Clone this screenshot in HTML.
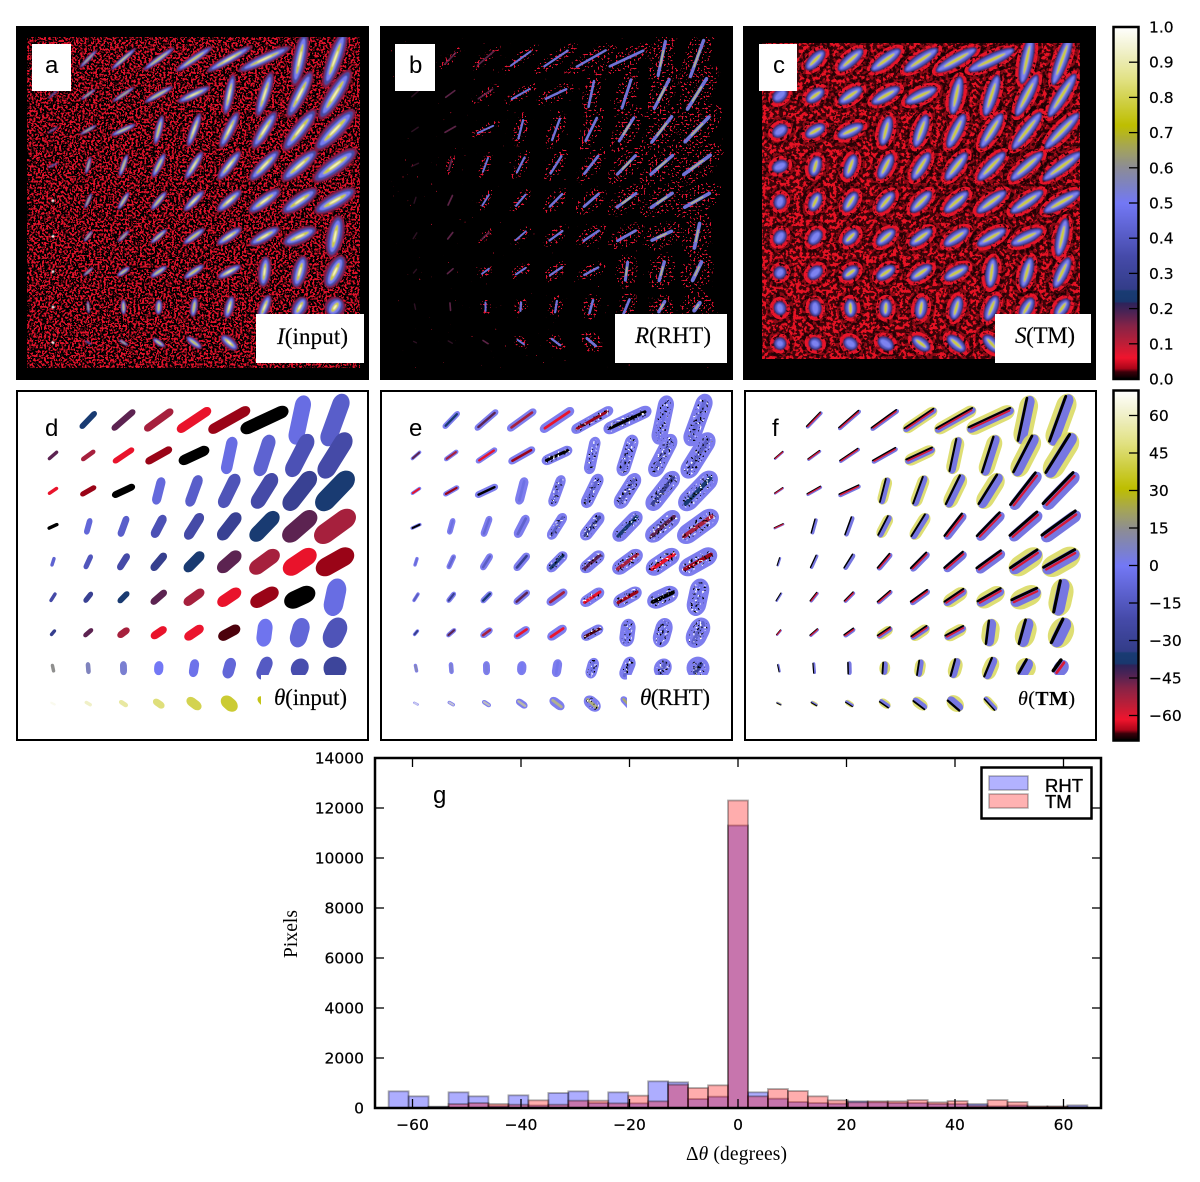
<!DOCTYPE html>
<html lang="en">
<head>
<meta charset="utf-8">
<title>Orientation maps and residual histogram</title>
<style>
html,body{margin:0;padding:0;background:#fff;}
svg{display:block;}
.tick{font-family:"DejaVu Sans",sans-serif;font-size:15.5px;fill:#000;stroke:#000;stroke-width:0.2px;}
.letter{font-family:"Liberation Sans",sans-serif;font-size:24px;fill:#000;}
.math{font-family:"Liberation Serif",serif;font-size:23px;fill:#000;stroke:#000;stroke-width:0.15px;}
.axis{font-family:"Liberation Serif",serif;font-size:19.5px;fill:#000;}
.leg{font-family:"Liberation Sans",sans-serif;font-size:18.5px;fill:#000;stroke:#000;stroke-width:0.35px;}
</style>
</head>
<body>
<svg id="figure" xmlns="http://www.w3.org/2000/svg" width="1200" height="1182" viewBox="0 0 1200 1182">
<defs>
<filter id="noise-a" x="0" y="0" width="100%" height="100%" color-interpolation-filters="sRGB">
<feTurbulence type="fractalNoise" baseFrequency="0.47" numOctaves="2" seed="3"/>
<feColorMatrix values="0 0 0 0 0.88 0 0 0 0 0.07 0 0 0 0 0.17 1 0 0 0 0"/>
<feComponentTransfer><feFuncA type="linear" slope="30" intercept="-15.2"/></feComponentTransfer>
</filter>
<filter id="noise-b" x="0" y="0" width="100%" height="100%" color-interpolation-filters="sRGB">
<feTurbulence type="fractalNoise" baseFrequency="0.42" numOctaves="1" seed="8"/>
<feColorMatrix values="0 0 0 0 0.75 0 0 0 0 0.07 0 0 0 0 0.17 1 0 0 0 0"/>
<feComponentTransfer><feFuncA type="linear" slope="30" intercept="-23"/></feComponentTransfer>
</filter>
<filter id="noise-c" x="0" y="0" width="100%" height="100%" color-interpolation-filters="sRGB">
<feTurbulence type="fractalNoise" baseFrequency="0.3" numOctaves="2" seed="5"/>
<feColorMatrix values="0 0 0 0 0.9 0 0 0 0 0.07 0 0 0 0 0.14 1 0 0 0 0"/>
<feComponentTransfer><feFuncA type="linear" slope="12" intercept="-5.6"/></feComponentTransfer>
</filter>
<filter id="speckle-red" filterUnits="userSpaceOnUse" x="380" y="26" width="353" height="354" color-interpolation-filters="sRGB">
<feTurbulence type="fractalNoise" baseFrequency="0.5" numOctaves="1" seed="11" result="n"/>
<feColorMatrix in="n" values="0 0 0 0 0.9 0 0 0 0 0.08 0 0 0 0 0.2 1 0 0 0 0"/>
<feComponentTransfer result="dots"><feFuncA type="linear" slope="30" intercept="-18.1"/></feComponentTransfer>
<feComposite in="dots" in2="SourceAlpha" operator="in"/>
</filter>
<filter id="speckle-black" filterUnits="userSpaceOnUse" x="380" y="390" width="353" height="351" color-interpolation-filters="sRGB">
<feTurbulence type="fractalNoise" baseFrequency="0.45" numOctaves="1" seed="21" result="n"/>
<feColorMatrix in="n" values="0 0 0 0 0 0 0 0 0 0 0 0 0 0 0 1 0 0 0 0"/>
<feComponentTransfer result="dots"><feFuncA type="linear" slope="30" intercept="-18.6"/></feComponentTransfer>
<feComposite in="dots" in2="SourceAlpha" operator="in"/>
</filter>
<filter id="speckle-white" filterUnits="userSpaceOnUse" x="380" y="390" width="353" height="351" color-interpolation-filters="sRGB">
<feTurbulence type="fractalNoise" baseFrequency="0.45" numOctaves="1" seed="33" result="n"/>
<feColorMatrix in="n" values="0 0 0 0 1 0 0 0 0 1 0 0 0 0 1 1 0 0 0 0"/>
<feComponentTransfer result="dots"><feFuncA type="linear" slope="30" intercept="-19.5"/></feComponentTransfer>
<feComposite in="dots" in2="SourceAlpha" operator="in"/>
</filter>
<filter id="halo-break" filterUnits="userSpaceOnUse" x="743" y="26" width="353" height="354" color-interpolation-filters="sRGB">
<feTurbulence type="fractalNoise" baseFrequency="0.3" numOctaves="2" seed="17" result="n"/>
<feColorMatrix in="n" values="0 0 0 0 0.91 0 0 0 0 0.08 0 0 0 0 0.16 1 0 0 0 0"/>
<feComponentTransfer result="dots"><feFuncA type="linear" slope="12" intercept="-4.4"/></feComponentTransfer>
<feComposite in="dots" in2="SourceAlpha" operator="in"/>
</filter>
<filter id="soft" x="-5%" y="-5%" width="110%" height="110%"><feGaussianBlur stdDeviation="0.6"/></filter>
<clipPath id="clip-a"><rect x="27" y="37" width="333" height="331"/></clipPath>
<clipPath id="clip-b"><rect x="391" y="37" width="333" height="331"/></clipPath>
<clipPath id="clip-c"><rect x="762" y="43" width="318" height="316"/></clipPath>
<clipPath id="clip-d"><rect x="18" y="392" width="349" height="347"/></clipPath>
<clipPath id="clip-e"><rect x="382" y="392" width="349" height="347"/></clipPath>
<clipPath id="clip-f"><rect x="746" y="392" width="349" height="347"/></clipPath>
<linearGradient id="score-gradient" x1="0" y1="1" x2="0" y2="0"></linearGradient>
<linearGradient id="angle-gradient" x1="0" y1="1" x2="0" y2="0"></linearGradient>
</defs>

<g id="panel-a">
<rect x="16" y="26" width="353" height="354" fill="#000"/>
<rect x="27" y="37" width="333" height="331" filter="url(#noise-a)"/>
<g id="blobs-a" clip-path="url(#clip-a)"></g>
<rect x="32" y="44" width="39" height="47" fill="#fff"/>
<text class="letter" x="45" y="73">a</text>
<rect x="256" y="314" width="108" height="49" fill="#fff"/>
<text class="math" x="277" y="344" textLength="71"><tspan font-style="italic">I</tspan>(input)</text>
</g>

<g id="panel-b">
<rect x="380" y="26" width="353" height="354" fill="#000"/>
<rect x="391" y="37" width="333" height="331" filter="url(#noise-b)"/>
<g id="speckle-b" clip-path="url(#clip-b)"><g id="speckle-b-inner" filter="url(#speckle-red)"></g></g>
<g id="blobs-b" clip-path="url(#clip-b)"></g>
<rect x="395" y="44" width="40" height="47" fill="#fff"/>
<text class="letter" x="409" y="73">b</text>
<rect x="615" y="314" width="112" height="49" fill="#fff"/>
<text class="math" x="635" y="343" textLength="76"><tspan font-style="italic">R</tspan>(RHT)</text>
</g>

<g id="panel-c">
<rect x="743" y="26" width="353" height="354" fill="#000"/>
<rect x="762" y="43" width="318" height="316" fill="#3c0409"/>
<rect x="762" y="43" width="318" height="316" filter="url(#noise-c)"/>
<g id="blobs-c" clip-path="url(#clip-c)"></g>
<rect x="759" y="44" width="38" height="47" fill="#fff"/>
<text class="letter" x="773" y="73">c</text>
<rect x="995" y="314" width="96" height="49" fill="#fff"/>
<text class="math" x="1015" y="343" textLength="60"><tspan font-style="italic">S</tspan>(TM)</text>
</g>

<g id="panel-d">
<rect x="17" y="391" width="351" height="349" fill="#fff" stroke="#000" stroke-width="2"/>
<g id="blobs-d" clip-path="url(#clip-d)"></g>
<rect x="261" y="675" width="103" height="50" fill="#fff"/>
<text class="letter" x="45" y="436">d</text>
<text class="math" x="274" y="705" textLength="73"><tspan font-style="italic">θ</tspan>(input)</text>
</g>

<g id="panel-e">
<rect x="381" y="391" width="351" height="349" fill="#fff" stroke="#000" stroke-width="2"/>
<g id="blobs-e" clip-path="url(#clip-e)"></g>
<g id="speckle-e" clip-path="url(#clip-e)"><g id="speckle-e-black" filter="url(#speckle-black)"></g><g id="speckle-e-white" filter="url(#speckle-white)"></g></g>
<rect x="627" y="675" width="101" height="50" fill="#fff"/>
<text class="letter" x="409" y="436">e</text>
<text class="math" x="640" y="705" textLength="70" font-size="22"><tspan font-style="italic">θ</tspan>(RHT)</text>
</g>

<g id="panel-f">
<rect x="745" y="391" width="351" height="349" fill="#fff" stroke="#000" stroke-width="2"/>
<g id="blobs-f" clip-path="url(#clip-f)"></g>
<rect x="1003" y="675" width="88" height="50" fill="#fff"/>
<text class="letter" x="772" y="436">f</text>
<text class="math" x="1018" y="705" textLength="57" style="font-size:20px"><tspan font-style="italic">θ</tspan>(<tspan font-weight="bold">TM</tspan>)</text>
</g>

<g id="colorbar-score">
<rect x="1113.5" y="27" width="25" height="352" fill="url(#score-gradient)" stroke="#000" stroke-width="2.5"/>
<g id="score-ticks"></g>
</g>
<g id="colorbar-angle">
<rect x="1113.5" y="390.5" width="25" height="350" fill="url(#angle-gradient)" stroke="#000" stroke-width="2.5"/>
<g id="angle-ticks"></g>
</g>

<g id="histogram">
<g id="hist-rht"></g>
<g id="hist-tm"></g>
<rect x="375" y="758" width="726" height="350" fill="none" stroke="#000" stroke-width="2.5"/>
<g id="hist-ticks"></g>
<text class="letter" x="433" y="803">g</text>
<text class="axis" transform="translate(297,934) rotate(-90)" text-anchor="middle" textLength="48">Pixels</text>
<text class="axis" x="686" y="1160" textLength="101">Δ<tspan font-style="italic">θ</tspan> (degrees)</text>
<g id="hist-legend">
<rect x="981.5" y="767.5" width="110" height="51" fill="#fff" stroke="#000" stroke-width="2.5"/>
<rect x="989" y="776" width="39" height="14" fill="#00f" fill-opacity="0.3" stroke="#000" stroke-opacity="0.3" stroke-width="1.5"/>
<text class="leg" x="1045" y="792">RHT</text>
<rect x="989" y="794" width="39" height="14" fill="#f00" fill-opacity="0.3" stroke="#000" stroke-opacity="0.3" stroke-width="1.5"/>
<text class="leg" x="1045" y="808">TM</text>
</g>
</g>
</svg>

<script>
const thetaGrid = [
  [null, -36, -45, -53, -62, -66, -70,  -5, -12],
  [ -45, -53, -62, -66, -70,  -5, -10, -18, -22],
  [ -62, -66, -70,  -7, -12, -17, -22, -30, -36],
  [ -70,  -8, -12, -18, -22, -30, -36, -45, -53],
  [ -10, -16, -22, -32, -37, -45, -53, -62, -66],
  [ -22, -30, -37, -45, -53, -62, -66, -70,  -5],
  [ -32, -45, -53, -62, -61, -67,  -2,  -8, -17],
  [  15,   8,   5,   0,  -3,  -8, -14, -20, -27],
  [  67,  60,  54,  48,  42,  38,  34, null, null]
];
/* Long-axis extent of each thresholded blob, pixels. */
const lengthGrid = [
  [ 0, 23, 30, 35, 40, 47, 52, 50, 55],
  [13, 17, 25, 30, 33, 38, 43, 47, 52],
  [12, 18, 25, 28, 33, 37, 40, 47, 50],
  [12, 17, 22, 25, 30, 33, 38, 42, 48],
  [10, 16, 19, 22, 26, 29, 35, 38, 42],
  [11, 13, 15, 20, 24, 27, 31, 33, 38],
  [ 8, 12, 14, 18, 22, 24, 28, 30, 32],
  [ 9, 12, 14, 14, 18, 21, 24, 20, 18],
  [ 6,  8, 10, 13, 17, 19, 18,  0,  0]
];
/* Short-axis extent of each thresholded blob, pixels. */
const widthGrid = [
  [0, 5, 5.5, 6.5, 8, 9, 11, 14, 15],
  [3, 4, 5, 6.5, 9, 10, 12, 14, 16],
  [3, 4.5, 6, 8, 9, 11, 13, 15, 17],
  [3, 5, 6, 8, 9, 11, 13, 15, 17],
  [3, 4.5, 6, 7, 9, 11, 13, 15, 16],
  [3, 4.5, 5, 6, 8, 10, 12, 15, 17],
  [3, 4, 6, 7, 8, 9, 13, 15, 18],
  [3, 4, 6, 8, 8, 10, 11, 15, 20],
  [2, 3, 4, 6, 8, 11, 6, 0, 0]
];
/* Histogram bin counts, 35 bins from left to right. */
const rhtCounts = [667, 467, 53, 627, 467, 80, 507, 100, 600, 667, 200, 627, 187, 1067, 1027, 360, 453, 11300, 627, 373, 240, 200, 173, 267, 227, 200, 200, 160, 160, 160, 67, 100, 40, 40, 107];
const tmCounts = [0, 0, 40, 160, 200, 160, 133, 307, 133, 293, 293, 187, 493, 267, 933, 800, 907, 12300, 467, 760, 680, 467, 307, 227, 267, 267, 320, 227, 280, 93, 320, 240, 67, 67, 27];
const binStart = -64.4;
const binWidth = 3.68;
const histXTicks = [-60, -40, -20, 0, 20, 40, 60];
const histYTicks = [0, 2000, 4000, 6000, 8000, 10000, 12000, 14000];
const scoreTicks = [0, 0.1, 0.2, 0.3, 0.4, 0.5, 0.6, 0.7, 0.8, 0.9, 1];
const angleTicks = [-60, -45, -30, -15, 0, 15, 30, 45, 60];

const rampStops = [
  [0,0,0,0],[0.02,60,0,10],[0.03,170,5,25],[0.06,240,20,45],[0.10,190,30,55],[0.15,135,35,70],
  [0.19,75,35,85],[0.215,45,35,90],[0.22,25,55,110],[0.25,25,60,115],[0.251,50,60,135],
  [0.35,70,75,170],[0.50,115,120,245],[0.55,125,130,195],[0.60,140,140,150],[0.66,165,165,85],
  [0.72,190,190,0],[0.78,205,205,60],[0.85,225,225,130],[0.93,240,240,200],[1,255,255,255]
];
/* Colour angle (first) to drawn tilt (second): the drawn shape leans differently from its printed colour value. */
const tiltMap = [[-70,-65],[-62,-56],[-53,-54],[-45,-49],[-36,-44],[-30,-38],[-22,-32],[-12,-20],[-5,-12],[0,-4],[15,12],[38,49],[42,53],[48,55],[60,60],[70,65]];
const NS = 'http://www.w3.org/2000/svg';

function tiltOf(theta) {
  for (let i = 1; i < tiltMap.length; i++) {
    const a = tiltMap[i - 1], b = tiltMap[i];
    if (theta <= b[0]) return a[1] + (b[1] - a[1]) * (theta - a[0]) / (b[0] - a[0]);
  }
  return theta;
}
function rampColor(f) {
  const t = Math.max(0, Math.min(1, f));
  for (let i = 1; i < rampStops.length; i++) {
    const a = rampStops[i - 1], b = rampStops[i];
    if (t <= b[0]) {
      const k = (t - a[0]) / (b[0] - a[0]);
      return 'rgb(' + [1, 2, 3].map(j => Math.round(a[j] + (b[j] - a[j]) * k)).join(',') + ')';
    }
  }
  return 'rgb(255,255,255)';
}
function angleFraction(theta) { return (theta + 70) / 140; }
function angleColor(theta) { return rampColor(angleFraction(theta)); }

function make(tag, attrs, parent) {
  const node = document.createElementNS(NS, tag);
  Object.keys(attrs).forEach(k => node.setAttribute(k, attrs[k]));
  parent.appendChild(node);
  return node;
}
function byId(id) { return document.getElementById(id); }

/* Axis functions */
function cellX(col, x0) { return x0 + col * 35.25; }
function cellY(row, y0) { return y0 + row * 35.45; }
function histX(v) { return 738 + v * 5.425; }
function histY(c) { return 1108 - c * 0.025; }
function scoreY(v) { return 379 - v * 352; }
function angleY(v) { return 390.5 + (70 - v) / 140 * 350; }

function blobLayer(parent, cx, cy, len, wid, rot, fill, opacity, offset) {
  const w = Math.max(wid, 0.4);
  const l = Math.max(len, w);
  const shape = make('rect', {
    x: -w / 2 + (offset || 0), y: -l / 2, width: w, height: l, rx: w / 2, ry: Math.min(l / 2, w * 0.62),
    fill: fill, 'fill-opacity': opacity,
    transform: 'translate(' + cx + ',' + cy + ') rotate(' + rot + ')'
  }, parent);
  
  
  return shape;
}
function ellipseLayer(parent, cx, cy, len, wid, rot, fill, opacity) {
  const shape = blobLayer(parent, cx, cy, len, wid, rot, fill, opacity);
  shape.setAttribute('ry', Math.max(len, wid) / 2);
  return shape;
}

function eachCell(visit) {
  thetaGrid.forEach((rowValues, row) => {
    rowValues.forEach((theta, col) => {
      if (theta === null) return;
      visit(row, col, theta, lengthGrid[row][col], widthGrid[row][col], -tiltOf(theta));
    });
  });
}

/* Colour ramps */
[byId('score-gradient'), byId('angle-gradient')].forEach(gradient => {
  for (let i = 0; i <= 200; i++) {
    make('stop', { offset: (i / 200), 'stop-color': rampColor(i / 200) }, gradient);
  }
});

/* Panel a: intensity */
const blobsA = byId('blobs-a');
blobsA.setAttribute('filter', 'url(#soft)');
eachCell((row, col, theta, len, wid, rot) => {
  const x = cellX(col, 53), y = cellY(row, 59);
  const g = make('g', {}, blobsA);
  
  
  if (col === 0 && row >= 4) {
    ellipseLayer(g, x, y, 3, 2.5, rot, '#fff', 1);
    return;
  }
  const strength = wid < 4 ? 0.45 : (wid < 5.5 ? 0.75 : 1);
  ellipseLayer(g, x, y, len * 1.12, wid * 1.05, rot, 'rgb(125,30,75)', strength);
  ellipseLayer(g, x, y, len, wid * 0.76, rot, 'rgb(70,72,160)', strength);
  ellipseLayer(g, x, y, len * 0.85, wid * 0.5, rot, 'rgb(120,125,240)', strength);
  if (wid >= 4) ellipseLayer(g, x, y, len * 0.62, wid * 0.24, rot, 'rgb(205,205,60)', strength);
  if (wid >= 9) ellipseLayer(g, x, y, len * 0.32, wid * 0.1, rot, 'rgb(250,250,205)', 1);
});

/* Panel b: RHT response */
const speckleB = byId('speckle-b-inner');
const blobsB = byId('blobs-b');
eachCell((row, col, theta, len, wid, rot) => {
  const x = cellX(col, 415), y = cellY(row, 58.5);
  if (wid >= 5) {
    const halo = ellipseLayer(speckleB, x, y, len * 1.3, wid * 1.7, rot, '#fff', 1);
    
  }
  const strong = wid >= 6;
  const core = blobLayer(blobsB, x, y, len * 0.76, 1 + wid * 0.16, rot, strong ? 'rgb(115,120,225)' : 'rgb(130,50,100)', strong ? 0.95 : (wid >= 4 ? 0.7 : 0.35));
  
  if (wid >= 13) {
    const hot = blobLayer(blobsB, x, y, len * 0.35, 1.6, rot, 'rgb(205,205,110)', 0.7);
    
  }
});

/* Panel c: TM response */
const blobsC = byId('blobs-c');
const shellC = make('g', {}, blobsC);


const haloC = make('g', { filter: 'url(#halo-break)' }, blobsC);


const coreC = make('g', { filter: 'url(#soft)' }, blobsC);


eachCell((row, col, theta, len, wid, rot) => {
  const x = cellX(col, 780), y = cellY(row, 60);
  const l = 6 + 0.85 * len, w = 13;
  ellipseLayer(shellC, x, y, l + 18, w + 15, rot, '#000', 0.4);
  ellipseLayer(haloC, x, y, l + 9, w + 7, rot, '#fff', 1);
  ellipseLayer(coreC, x, y, l + 1, w, rot, 'rgb(55,45,110)', 1);
  ellipseLayer(coreC, x, y, l - 2, w - 3, rot, 'rgb(85,90,195)', 1);
  ellipseLayer(coreC, x, y, l - 5, w * 0.45, rot, 'rgb(125,130,240)', 1);
  if (len >= 14) ellipseLayer(coreC, x, y, l * 0.62, 3, rot, 'rgb(205,205,55)', 1);
});

/* Panel d: input angle */
const blobsD = byId('blobs-d');
eachCell((row, col, theta, len, wid, rot) => {
  const mark = blobLayer(blobsD, cellX(col, 53), cellY(row, 420), len, wid * 1.15, rot, angleColor(theta), 1);
  
});

/* Panel e: RHT angle */
const blobsE = byId('blobs-e');
const speckleEBlack = byId('speckle-e-black');
const speckleEWhite = byId('speckle-e-white');
eachCell((row, col, theta, len, wid, rot) => {
  const x = cellX(col, 416), y = cellY(row, 420);
  const mark = blobLayer(blobsE, x, y, len, wid * 1.15, rot, 'rgb(125,125,238)', 1);
  
  const coreLine = blobLayer(blobsE, x, y, len * 0.8, 1.5 + wid * 0.16, rot, angleColor(theta), theta < -25 ? 1 : 0.6);
  
  if (wid >= 9) {
    const zoneDark = blobLayer(speckleEBlack, x, y, len * 0.85, wid * 0.75, rot, '#fff', 1);
    
    const zoneLight = blobLayer(speckleEWhite, x, y, len * 0.85, wid * 0.75, rot, '#fff', 1);
    
  }
});

/* Panel f: TM angle */
const blobsF = byId('blobs-f');
eachCell((row, col, theta, len, wid, rot) => {
  const x = cellX(col, 779), y = cellY(row, 420);
  const g = make('g', {}, blobsF);
  
  
  const steep = theta > -25 || theta < -58;
  if ((wid >= 7 && steep) || theta > 20) blobLayer(g, x, y, len, wid * 1.35, rot, 'rgb(218,218,100)', 0.9);
  blobLayer(g, x, y, len * 0.98, wid * 0.72, rot, 'rgb(118,118,225)', 1);
  blobLayer(g, x, y, len * 0.92, 0.6 + wid * 0.15, rot, '#000', 1, -wid * 0.24);
  if (theta < -25) blobLayer(g, x, y, len * 0.85, 0.8 + wid * 0.1, rot, 'rgb(215,25,55)', 1, -wid * 0.04);
});

/* Colour-bar ticks */
const scoreTickGroup = byId('score-ticks');
scoreTicks.forEach(v => {
  const y = scoreY(v);
  if (v > 0 && v < 1) {
    const mark = make('line', { x1: 1129, x2: 1138, y1: y, y2: y, stroke: '#000', 'stroke-width': 1.3 }, scoreTickGroup);
    
    
  }
  const label = make('text', { x: 1149, y: y + 5.5, class: 'tick' }, scoreTickGroup);
  
  
  label.textContent = v.toFixed(1);
});
const angleTickGroup = byId('angle-ticks');
angleTicks.forEach(v => {
  const y = angleY(v);
  const mark = make('line', { x1: 1129, x2: 1138, y1: y, y2: y, stroke: '#000', 'stroke-width': 1.3 }, angleTickGroup);
  
  
  const label = make('text', { x: 1149, y: y + 5.5, class: 'tick' }, angleTickGroup);
  
  
  label.textContent = String(v).replace('-', '\u2212');
});

/* Histogram */
function drawBars(counts, colour, parent) {
  counts.forEach((count, i) => {
    if (count <= 0) return;
    const x0 = histX(binStart + i * binWidth);
    const x1 = histX(binStart + (i + 1) * binWidth);
    const bar = make('rect', {
      x: x0, y: histY(count), width: x1 - x0, height: histY(0) - histY(count),
      fill: colour, 'fill-opacity': 0.32, stroke: '#000', 'stroke-opacity': 0.33, 'stroke-width': 1.8
    }, parent);
    
    
  });
}
drawBars(rhtCounts, '#00f', byId('hist-rht'));
drawBars(tmCounts, '#f00', byId('hist-tm'));

const histTickGroup = byId('hist-ticks');
histXTicks.forEach(v => {
  const x = histX(v);
  const bottomMark = make('line', { x1: x, x2: x, y1: 1099, y2: 1108, stroke: '#000', 'stroke-width': 1.3 }, histTickGroup);
  
  
  const topMark = make('line', { x1: x, x2: x, y1: 758, y2: 767, stroke: '#000', 'stroke-width': 1.3 }, histTickGroup);
  
  
  const label = make('text', { x: x, y: 1130, 'text-anchor': 'middle', class: 'tick' }, histTickGroup);
  
  
  label.textContent = String(v).replace('-', '\u2212');
});
histYTicks.forEach(v => {
  const y = histY(v);
  const leftMark = make('line', { x1: 375, x2: 384, y1: y, y2: y, stroke: '#000', 'stroke-width': 1.3 }, histTickGroup);
  
  
  const rightMark = make('line', { x1: 1092, x2: 1101, y1: y, y2: y, stroke: '#000', 'stroke-width': 1.3 }, histTickGroup);
  
  
  const label = make('text', { x: 364, y: y + 5.5, 'text-anchor': 'end', class: 'tick' }, histTickGroup);
  
  
  label.textContent = String(v);
});
</script>
</body>
</html>
